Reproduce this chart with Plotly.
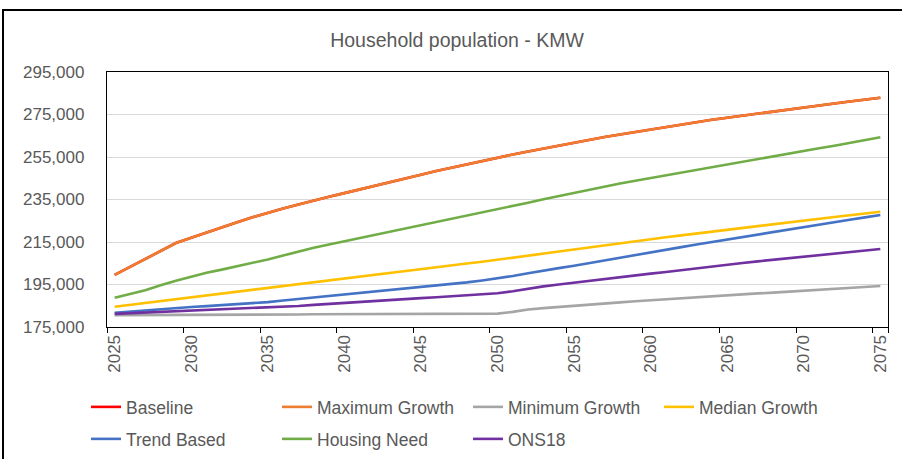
import plotly.graph_objects as go

years = [str(y) for y in range(2025, 2076)]
tick_years = [str(y) for y in range(2025, 2076, 5)]
y_ticks = [175000, 195000, 215000, 235000, 255000, 275000, 295000]

maximum_growth = [
    199500, 203300, 207000, 210800, 214500, 217000, 219500, 222000, 224300, 226600,
    228800, 230800, 232700, 234600, 236300, 238000, 239800, 241600, 243300, 245000,
    246700, 248400, 250000, 251700, 253300, 254800, 256200, 257600, 259000, 260400,
    261800, 263100, 264400, 265600, 266800, 268000, 269200, 270300, 271400, 272500,
    273500, 274500, 275500, 276500, 277400, 278300, 279300, 280200, 281100, 282000,
    282900]
baseline = list(maximum_growth)
housing_need = [
    188800, 190500, 192300, 194600, 196800, 198600, 200500, 202000, 203500, 205000,
    206800, 208600, 210500, 212300, 213800, 215300, 216800, 218200, 219800, 221400,
    222900, 224400, 225900, 227300, 228700, 230300, 231900, 233500, 235100, 236600,
    238200, 239700, 241100, 242500, 243800, 245100, 246400, 247700, 249000, 250300,
    251600, 252900, 254200, 255400, 256600, 257800, 259100, 260300, 261600, 262900,
    264300]
median_growth = [
    184500, 185400, 186300, 187100, 188000, 188900, 189700, 190600, 191500, 192400,
    193300, 194200, 195100, 196000, 196900, 197800, 198700, 199600, 200500, 201400,
    202300, 203200, 204100, 204900, 205700, 206600, 207500, 208500, 209500, 210500,
    211500, 212500, 213400, 214300, 215300, 216300, 217200, 218100, 219000, 219900,
    220800, 221700, 222600, 223500, 224300, 225100, 225900, 226800, 227600, 228400,
    229200]
trend_based = [
    181700, 182300, 182900, 183400, 183900, 184400, 184800, 185200, 185700, 186200,
    186700, 187500, 188200, 188800, 189400, 190100, 190900, 191700, 192300, 192900,
    193700, 194500, 195300, 196000, 196900, 197800, 199000, 200300, 201600, 202700,
    203800, 205100, 206400, 207700, 208800, 210000, 211300, 212600, 213800, 215000,
    216100, 217300, 218500, 219600, 220800, 222000, 223200, 224400, 225500, 226600,
    227700]
ons18 = [
    181200, 181500, 181800, 182100, 182400, 182600, 182900, 183100, 183400, 183700,
    184000, 184400, 184900, 185400, 185900, 186400, 186900, 187400, 187800, 188200,
    188600, 189000, 189500, 189900, 190400, 190900, 191800, 193000, 194100, 195000,
    195900, 196800, 197600, 198400, 199300, 200100, 200900, 201800, 202600, 203500,
    204300, 205100, 205900, 206600, 207400, 208200, 208900, 209600, 210300, 211000,
    211700]
minimum_growth = [
    180600, 180600, 180700, 180700, 180700, 180800, 180800, 180800, 180800, 180900,
    180900, 180900, 180900, 181000, 181000, 181000, 181100, 181100, 181100, 181100,
    181200, 181200, 181200, 181200, 181300, 181300, 182100, 183200, 183900, 184500,
    185000, 185500, 186000, 186600, 187100, 187600, 188100, 188600, 189100, 189500,
    190000, 190400, 190800, 191200, 191600, 192000, 192400, 192800, 193300, 193800,
    194300]

series = [
    ("Baseline", baseline, "#FF0000", "legend"),
    ("Maximum Growth", maximum_growth, "#ED7D31", "legend"),
    ("Minimum Growth", minimum_growth, "#A5A5A5", "legend"),
    ("Median Growth", median_growth, "#FFC000", "legend"),
    ("Trend Based", trend_based, "#4472C4", "legend2"),
    ("Housing Need", housing_need, "#70AD47", "legend2"),
    ("ONS18", ons18, "#7030A0", "legend2"),
]

fig = go.Figure()
for name, vals, color, leg in series:
    fig.add_trace(go.Scatter(
        x=years, y=vals, name=name, mode="lines",
        line=dict(color=color, width=2.6),
        legend=leg,
    ))

TXT = "#595959"
FONT = "Liberation Sans, Arial, sans-serif"

L, R, T, B = 107, 888, 72, 327
W, H = 902, 459


def px_x(p):
    return (p - L) / (R - L)


def px_y(p):
    return (B - p) / (B - T)


legend_common = dict(orientation="h", xanchor="left", yanchor="middle",
                     entrywidth=146, entrywidthmode="pixels",
                     font=dict(size=17.5, color=TXT, family=FONT),
                     bgcolor="rgba(0,0,0,0)", traceorder="normal")

fig.update_layout(
    template="none",
    width=W, height=H,
    margin=dict(l=L, r=W - R, t=T, b=H - B, autoexpand=False),
    paper_bgcolor="white", plot_bgcolor="white",
    font=dict(family=FONT, color=TXT, size=17),
    title=dict(text="Household population - KMW", x=457 / W, xref="container",
               xanchor="center", y=1 - 40 / H, yref="container", yanchor="middle",
               font=dict(size=19.5, color=TXT, family=FONT)),
    showlegend=True,
    legend=dict(x=px_x(86), y=px_y(407), **legend_common),
    legend2=dict(x=px_x(86), y=px_y(439), **legend_common),
    xaxis=dict(type="category", tickmode="array", tickvals=tick_years, ticktext=tick_years,
               tickson="boundaries", ticks="outside", ticklen=5, tickwidth=1.3,
               tickcolor="black", tickangle=-90, showgrid=False, automargin=False,
               showline=True, linecolor="black", linewidth=1.3, mirror=True,
               tickfont=dict(size=17, color=TXT, family=FONT),
               range=[-0.5, len(years) - 0.5], zeroline=False),
    yaxis=dict(range=[175000, 295000], tickmode="array", tickvals=y_ticks,
               tickformat=",d", showgrid=True, gridcolor="#D9D9D9", gridwidth=1.2,
               ticks="outside", ticklen=18, tickcolor="rgba(0,0,0,0)", automargin=False,
               showline=True, linecolor="black", linewidth=1.3, mirror=True,
               tickfont=dict(size=17, color=TXT, family=FONT), zeroline=False),
    shapes=[dict(type="rect", xref="paper", yref="paper",
                 x0=px_x(3), x1=px_x(910), y0=px_y(480), y1=px_y(10),
                 line=dict(color="black", width=2), fillcolor="rgba(0,0,0,0)",
                 layer="below")],
)

fig.write_html("out.html", config={"displayModeBar": False},
               post_script="document.body.style.margin='0';document.body.style.padding='0';")
